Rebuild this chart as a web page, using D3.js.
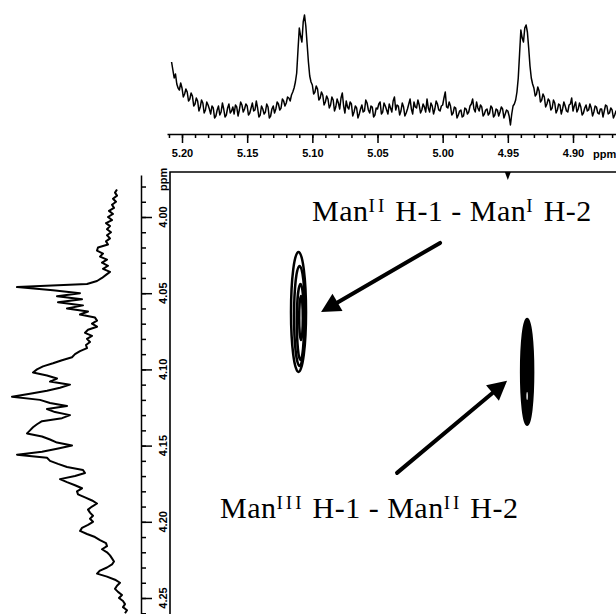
<!DOCTYPE html>
<html><head><meta charset="utf-8">
<script src="https://cdn.jsdelivr.net/npm/d3@7/dist/d3.min.js"></script>
<style>html,body{margin:0;padding:0;background:#fff;} svg{display:block}</style>
</head><body>
<svg id="c" width="616" height="614"></svg>
<script>
// ---------- data ----------
const topTickValues = [5.20, 5.15, 5.10, 5.05, 5.00, 4.95, 4.90];
const topTickLabels = ["5.20", "5.15", "5.10", "5.05", "5.00", "4.95", "4.90"];
const leftTickValues = [4.00, 4.05, 4.10, 4.15, 4.20, 4.25];
const leftTickLabels = ["4.00", "4.05", "4.10", "4.15", "4.20", "4.25"];
const axisUnit = "ppm";

// F2 projection (top trace), sampled every 0.001 ppm from 5.208 ppm
const topStart = 5.208, topStep = 0.001;
const topIntensity = [
  56,48,40,44,34,30,28,35,30,21, 24,29,26,17,19,25,22,12,14,20,
  17,7,11,18,15,5,8,16,13,9, 4,12,10,0,2,8,12,3,6,15,
  9,1,3,10,14,5,7,11,4,13, 11,2,8,16,13,6,9,14,12,3,
  5,10,15,7,8,17,10,1,3,12, 9,4,6,14,11,0,2,9,12,5,
  9,16,14,8,10,19,17,12,15,21, 20,17,23,26,30,36,45,68,90,82,
  76,96,103,92,74,56,42,36,33,24, 26,32,29,18,20,26,23,13,16,22,
  19,10,13,21,18,7,11,19,15,9, 20,25,12,5,17,11,9,16,14,2,
  6,12,10,0,4,9,13,6,7,18, 15,8,5,12,11,1,3,10,9,14,
  16,4,6,15,12,8,4,14,10,6, 17,21,8,13,12,3,7,15,11,2,
  5,9,14,19,9,4,16,11,10,18, 13,5,8,14,11,6,19,10,6,15,
  12,4,9,17,14,8,7,12,13,20, 26,11,10,16,12,3,5,11,10,0,
  3,7,8,1,2,10,9,4,6,12, 14,19,9,6,16,10,7,13,11,2,
  4,8,9,3,5,12,10,1,3,9, 8,2,6,11,9,0,4,8,7,2,
  -7,4,12,14,18,26,40,64,88,80, 76,90,93,86,70,52,40,34,30,22,
  24,31,27,16,18,24,21,11,14,19, 17,8,10,18,15,5,8,14,13,4,
  9,16,12,7,6,13,14,20,7,12, 16,6,9,15,11,3,5,10,13,7,
  8,14,10,2,6,12,11,5,4,9, 9,1,7,13,12,4,5,10,8,0,
  3,7,6];

// F1 projection (left trace), sampled every 0.002 ppm from 3.982 ppm
const leftStart = 3.982, leftStep = 0.002;
const leftIntensity = [11,13,11,15,12,16,14,19,15,20, 16,22,18,21,17,21,18,22,20,30,
  31,25,28,21,26,20,25,18,22,26, 31,41,111,75,48,71,46,70,45,61,
  40,48,33,31,36,31,40,43,36,41, 38,42,41,48,53,56,66,75,85,91,
  95,81,71,78,58,68,81,98,116,88, 78,61,81,73,58,66,86,91,95,98,
  101,86,78,71,56,71,86,111,81,78, 70,61,45,43,53,68,61,53,46,51,
  50,43,36,31,36,40,38,35,38,35, 40,46,48,41,33,28,22,21,26,21,
  18,16,14,16,21,28,31,21,13,8, 11,13,10,6,9,5,3,5,1,3];

// contour levels of the two cross peaks (centre and half widths in ppm)
const contourF2 =     [5.1106, 5.1098, 5.1091, 5.1087, 4.9352, 4.9352];
const contourF1 =     [4.0623, 4.0649, 4.0689, 4.0662, 4.1016, 4.1174];
const contourHalfF2 = [0.00576, 0.00422, 0.00276, 0.00138, 0.00460, 0.00054];
const contourHalfF1 = [0.03934, 0.03279, 0.02492, 0.01443, 0.03475, 0.00262];
const contourStyle =  ["line", "line", "line", "line", "solid", "hole"];

// annotations
const arrowTailF2 = [5.0020, 5.0350];
const arrowTailF1 = [4.0170, 4.1679];
const arrowTipF2 =  [5.0933, 4.9506];
const arrowTipF1 =  [4.0623, 4.1075];
const labelF2 = [5.1002, 5.1708];
const labelF1 = [4.0026, 4.1974];
const labelMain = [["Man", " H-1 - Man", " H-2"], ["Man", " H-1 - Man", " H-2"]];
const labelSup = [["II", "I"], ["III", "II"]];
const markerF2 = [4.95];

// ---------- drawing ----------
const svg = d3.select("#c");
const x = d3.scaleLinear().domain([5.20, 4.90]).range([182, 573]);
const y = d3.scaleLinear().domain([4.00, 4.25]).range([217, 598]);
const topY = d3.scaleLinear().domain([0, 100]).range([118, 18]);
const leftX = d3.scaleLinear().domain([0, 100]).range([128, 28]);

const topShift = topIntensity.map((d, i) => topStart - i * topStep);
const leftShift = leftIntensity.map((d, i) => leftStart + i * leftStep);

svg.append("path").datum(topIntensity)
  .attr("d", d3.line().x((d, i) => x(topShift[i])).y(d => topY(d)))
  .attr("fill", "none").attr("stroke", "#000").attr("stroke-width", 1.5)
  .attr("stroke-linejoin", "round");

svg.append("path").datum(leftIntensity)
  .attr("d", d3.line().x(d => leftX(d)).y((d, i) => y(leftShift[i])))
  .attr("fill", "none").attr("stroke", "#000").attr("stroke-width", 2)
  .attr("stroke-linejoin", "round");

// top axis
const topAxisScale = d3.scaleLinear().domain([x.invert(167), x.invert(616)]).range([167, 616]);
const topMinor = d3.range(487, 522).map(v => v / 100)
  .filter(v => v <= topAxisScale.domain()[0] && v >= topAxisScale.domain()[1]);
const gTop = svg.append("g").attr("transform", "translate(0,134)");
gTop.append("g").call(d3.axisBottom(topAxisScale).tickValues(topMinor).tickSize(4).tickSizeOuter(0).tickFormat(""));
const gTopMaj = gTop.append("g").call(d3.axisBottom(topAxisScale).tickValues(topTickValues).tickSize(9)
  .tickPadding(6).tickFormat((d, i) => topTickLabels[i]));
gTopMaj.select(".domain").remove();
gTop.selectAll("line,path").attr("stroke", "#000").attr("stroke-width", 1.5);
gTop.selectAll("text").attr("fill", "#000").style("font", "bold 11px 'Liberation Sans', Arial, sans-serif");
svg.append("text").attr("x", 593).attr("y", 158).text(axisUnit)
  .style("font", "bold 11px 'Liberation Sans', Arial, sans-serif");

// left axis
const leftAxisScale = d3.scaleLinear().domain([y.invert(175), y.invert(614)]).range([175, 614]);
const leftMinor = d3.range(398, 427).map(v => v / 100)
  .filter(v => v >= leftAxisScale.domain()[0] && v <= leftAxisScale.domain()[1]);
const gLeft = svg.append("g").attr("transform", "translate(141,0)");
gLeft.append("g").call(d3.axisRight(leftAxisScale).tickValues(leftMinor).tickSize(5).tickSizeOuter(0).tickFormat(""));
const gLeftMaj = gLeft.append("g").call(d3.axisRight(leftAxisScale).tickValues(leftTickValues).tickSize(11).tickFormat(""));
gLeftMaj.select(".domain").remove();
gLeft.selectAll("line,path").attr("stroke", "#000").attr("stroke-width", 1.5);
svg.append("g").selectAll("text").data(leftTickValues).join("text")
  .attr("transform", d => `translate(167,${y(d)}) rotate(-90)`)
  .attr("text-anchor", "middle")
  .text((d, i) => leftTickLabels[i])
  .style("font", "bold 11px 'Liberation Sans', Arial, sans-serif");
svg.append("text").attr("transform", "translate(167,191) rotate(-90)")
  .text(axisUnit).style("font", "bold 11px 'Liberation Sans', Arial, sans-serif");

// 2D frame
svg.append("path").attr("d", "M170,614V172H616")
  .attr("fill", "none").attr("stroke", "#000").attr("stroke-width", 1.6);
svg.selectAll(".mk").data(markerF2).join("path").attr("class", "mk")
  .attr("d", d => `M${x(d) - 3},172L${x(d) + 3},172L${x(d)},180Z`).attr("fill", "#000");

// contours
svg.append("g").selectAll("ellipse").data(contourF2).join("ellipse")
  .attr("cx", (d, i) => x(d))
  .attr("cy", (d, i) => y(contourF1[i]))
  .attr("rx", (d, i) => Math.abs(x(d + contourHalfF2[i]) - x(d)))
  .attr("ry", (d, i) => Math.abs(y(contourF1[i] + contourHalfF1[i]) - y(contourF1[i])))
  .attr("fill", (d, i) => contourStyle[i] === "solid" ? "#000" : contourStyle[i] === "hole" ? "#fff" : "none")
  .attr("stroke", (d, i) => contourStyle[i] === "hole" ? "none" : "#000")
  .attr("stroke-width", 2.5);

// arrows
const gArr = svg.append("g");
arrowTailF2.forEach((d, i) => {
  const sx = x(d), sy = y(arrowTailF1[i]);
  const tx = x(arrowTipF2[i]), ty = y(arrowTipF1[i]);
  const L = Math.hypot(tx - sx, ty - sy);
  const ux = (tx - sx) / L, uy = (ty - sy) / L;
  const headLen = 19, headHalf = 10;
  const bx = tx - ux * headLen, by = ty - uy * headLen;
  gArr.append("line").attr("x1", sx).attr("y1", sy).attr("x2", bx + ux * 2).attr("y2", by + uy * 2)
    .attr("stroke", "#000").attr("stroke-width", 4).attr("stroke-linecap", "round");
  gArr.append("path")
    .attr("d", `M${tx},${ty}L${bx - uy * headHalf},${by + ux * headHalf}L${bx + uy * headHalf},${by - ux * headHalf}Z`)
    .attr("fill", "#000");
});

// labels
labelF2.forEach((d, i) => {
  const t = svg.append("text").attr("x", x(d)).attr("y", y(labelF1[i]))
    .style("font-family", "'Liberation Serif', 'Times New Roman', serif")
    .style("font-size", "30px").style("white-space", "pre").attr("fill", "#000");
  t.append("tspan").attr("letter-spacing", 0.5).text(labelMain[i][0]);
  t.append("tspan").attr("dy", -9).style("font-size", "19px").attr("letter-spacing", 3).text(labelSup[i][0]);
  t.append("tspan").attr("dy", 9).attr("letter-spacing", 0.5).text(labelMain[i][1]);
  t.append("tspan").attr("dy", -9).style("font-size", "19px").attr("letter-spacing", 3).text(labelSup[i][1]);
  t.append("tspan").attr("dy", 9).attr("letter-spacing", 0.5).text(labelMain[i][2]);
});
</script>
</body></html>
